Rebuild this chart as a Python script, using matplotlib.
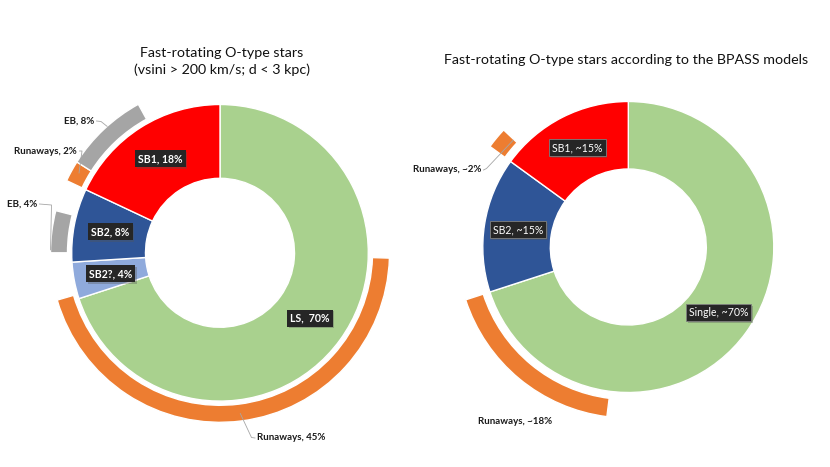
import numpy as np
import matplotlib
matplotlib.use("Agg")
import matplotlib.pyplot as plt
import matplotlib.patheffects as pe

plt.rcParams['font.family'] = ['Lato', 'DejaVu Sans']

# ---------------- data ----------------
left_title = "Fast-rotating O-type stars\n(vsini > 200 km/s; d < 3 kpc)"
right_title = "Fast-rotating O-type stars according to the BPASS models"

left_inner_labels = ["LS,  70%", "SB2?, 4%", "SB2, 8%", "SB1, 18%"]
left_inner_values = [70, 4, 8, 18]
left_inner_colors = ["#A9D18E", "#8FAADC", "#2F5597", "#FF0000"]

# outer ring: '' = hidden spacer segment
left_outer_labels = ["", "Runaways, 45%", "", "EB, 4%", "", "Runaways, 2%", "EB, 8%", ""]
left_outer_values = [25.5, 45, 4.5, 4, 3, 2, 8, 8]
left_outer_colors = ["none", "#ED7D31", "none", "#A5A5A5", "none", "#ED7D31", "#A5A5A5", "none"]

right_inner_labels = ["Single, ~70%", "SB2, ~15%", "SB1, ~15%"]
right_inner_values = [70, 15, 15]
right_inner_colors = ["#A9D18E", "#2F5597", "#FF0000"]

right_outer_labels = ["", "Runaways, ~18%", "", "Runaways, ~2%", ""]
right_outer_values = [52, 18, 15, 2, 13]
right_outer_colors = ["none", "#ED7D31", "none", "#ED7D31", "none"]

# ---------------- layout ----------------
W, H = 830, 467
fig = plt.figure(figsize=(W / 100, H / 100), dpi=100)
ax = fig.add_axes([0, 0, 1, 1])

def Y(y):
    return H - y

LC = (220.0, Y(252.8))
RC = (628.3, Y(247.0))
L_R, L_RIN = 148.3, 74.5
L_OR_IN, L_OR_OUT = 152.5, 169.5
R_R, R_RIN = 145.5, 78.0
R_OR_IN, R_OR_OUT = 152.5, 171.0

def draw_ring(center, values, colors, r_out, r_in):
    wedges, _ = ax.pie(values, colors=[c if c != "none" else "white" for c in colors],
                       startangle=90, counterclock=False, center=center, radius=r_out,
                       wedgeprops=dict(width=r_out - r_in, edgecolor="white", linewidth=1.0))
    for w, c in zip(wedges, colors):
        if c == "none":
            w.set_visible(False)
    return wedges

def pt(center, r, ang):
    a = np.deg2rad(ang)
    return center[0] + r * np.cos(a), center[1] + r * np.sin(a)

lw_in = draw_ring(LC, left_inner_values, left_inner_colors, L_R, L_RIN)
lw_out = draw_ring(LC, left_outer_values, left_outer_colors, L_OR_OUT, L_OR_IN)
rw_in = draw_ring(RC, right_inner_values, right_inner_colors, R_R, R_RIN)
rw_out = draw_ring(RC, right_outer_values, right_outer_colors, R_OR_OUT, R_OR_IN)

# inner labels (boxed)
def inner_labels(wedges, labels, center, r_out, r_in, bold, ec):
    for w, lab in zip(wedges, labels):
        mid = 0.5 * (w.theta1 + w.theta2)
        x, y = pt(center, 0.5 * (r_out + r_in), mid)
        t = ax.text(x, y, lab, ha="center", va="center", color="white", fontsize=7.6,
                    fontweight="bold" if bold else "normal",
                    bbox=dict(boxstyle="square,pad=0.28", fc="#262626", ec=ec, lw=0.6))
        t.get_bbox_patch().set_path_effects(
            [pe.withSimplePatchShadow(offset=(1.2, -1.2), shadow_rgbFace="#555555", alpha=0.35)])

inner_labels(lw_in, left_inner_labels, LC, L_R, L_RIN, True, "none")
inner_labels(rw_in, right_inner_labels, RC, R_R, R_RIN, False, "#808080")

# outer labels with leader lines
# (label text position in image px, ha, elbow, anchor fraction along wedge, anchor radius)
left_label_pos = {
    "Runaways, 45%": ((257, 438), "left", (251.5, 437.5), 0.5, 162),
    "EB, 4%": ((37, 204), "right", (51.5, 205), 0.93, 169.5),
    "Runaways, 2%": ((77, 151), "right", (82, 151), 0.4, 162),
    "EB, 8%": ((94, 121), "right", (101, 121.5), 0.45, 169.5),
}
right_label_pos = {
    "Runaways, ~18%": ((478, 422), "left", None, 0.5, 171),
    "Runaways, ~2%": ((481, 170), "right", (486.5, 168.5), 0.05, 157),
}

def outer_labels(wedges, labels, center, posmap):
    for w, lab in zip(wedges, labels):
        if not lab:
            continue
        (tx, ty), ha, elbow, frac, rr = posmap[lab]
        ax.text(tx, Y(ty), lab, ha=ha, va="center", fontsize=7.0, fontweight="bold",
                color="#1a1a1a")
        if elbow is not None:
            ang = w.theta1 + frac * (w.theta2 - w.theta1)
            ex, ey = pt(center, rr, ang)
            sx = tx - 2 if ha == "left" else tx + 2.5
            ax.plot([sx, elbow[0], ex], [Y(ty), Y(elbow[1]), ey], color="#A6A6A6", lw=0.6)

outer_labels(lw_out, left_outer_labels, LC, left_label_pos)
outer_labels(rw_out, right_outer_labels, RC, right_label_pos)

# titles
fig.text(222 / W, 1 - 61.5 / H, left_title, ha="center", va="center", fontsize=10.3,
         linespacing=1.35, color="#111111")
fig.text(626 / W, 1 - 60 / H, right_title, ha="center", va="center", fontsize=10.3,
         color="#111111")

ax.set_xlim(0, W)
ax.set_ylim(0, H)
ax.set_aspect("equal")
ax.axis("off")

fig.savefig("out.png", dpi=100, facecolor="white")
